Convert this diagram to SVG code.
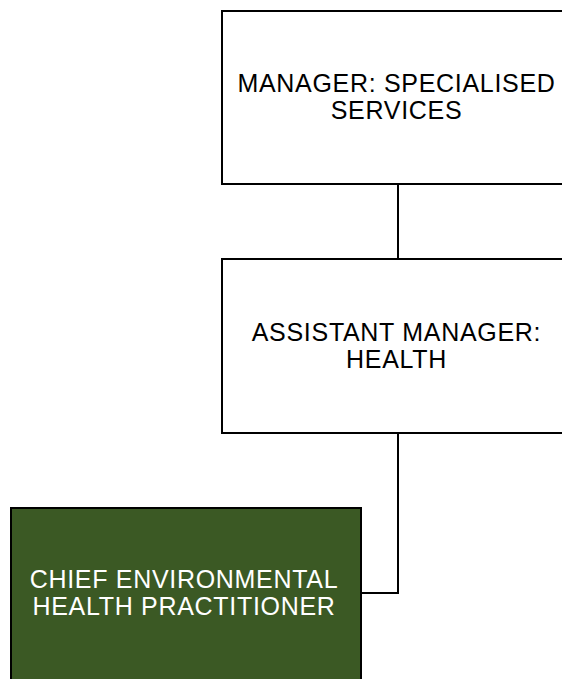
<svg xmlns="http://www.w3.org/2000/svg" width="562" height="679" viewBox="0 0 562 679">
  <style>
    .box { stroke: #000; stroke-width: 2; }
    .plain { fill: #fff; }
    .focus { fill: #3b5924; }
    .label { font-family: "Liberation Sans", Arial, sans-serif; font-size: 25px; letter-spacing: 0.7px; text-anchor: middle; }
    .dark { fill: #000; }
    .light { fill: #fff; }
    .link { fill: none; stroke: #000; stroke-width: 2; }
  </style>
  <rect width="562" height="679" fill="#fff"/>

  <g id="connectors">
    <line class="link" x1="398" y1="184" x2="398" y2="259"/>
    <polyline class="link" points="398,433 398,593 361,593"/>
  </g>

  <g id="manager-specialised-services">
    <rect class="box plain" x="222" y="11" width="360" height="173"/>
    <text class="label dark" x="396.5" y="92">MANAGER: SPECIALISED</text>
    <text class="label dark" x="396.5" y="119">SERVICES</text>
  </g>

  <g id="assistant-manager-health">
    <rect class="box plain" x="222" y="259" width="360" height="174"/>
    <text class="label dark" x="396.5" y="341">ASSISTANT MANAGER:</text>
    <text class="label dark" x="396.5" y="368">HEALTH</text>
  </g>

  <g id="chief-environmental-health-practitioner">
    <rect class="box focus" x="11" y="508" width="350" height="200"/>
    <text class="label light" x="184" y="588">CHIEF ENVIRONMENTAL</text>
    <text class="label light" x="184" y="615">HEALTH PRACTITIONER</text>
  </g>
</svg>
